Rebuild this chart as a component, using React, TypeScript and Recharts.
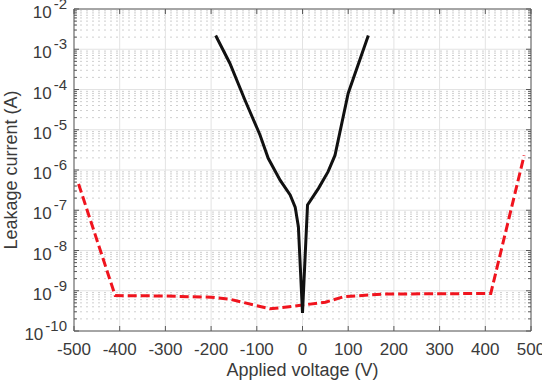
import { LineChart, Line, XAxis, YAxis, CartesianGrid, ReferenceLine } from 'recharts';

// black: leakage sweep (solid)
const blackVoltage = [-190, -159, -126, -93, -75, -49, -27, -16, -9, -5.5, 0, 11, 35, 56, 71, 100, 144];
const blackCurrent = [2.2e-3, 4.5e-4, 5.5e-5, 7.4e-6, 1.95e-6, 5.6e-7, 2.4e-7, 1.2e-7, 3.9e-8, 5.7e-9, 2.8e-10, 1.35e-7, 3.5e-7, 9.1e-7, 2.3e-6, 8.1e-5, 2.2e-3];

// red: dashed sweep
const redVoltage = [-490, -410, -300, -200, -160, -71, 0, 50, 90, 180, 300, 412, 485];
const redCurrent = [4.5e-7, 7.6e-10, 7.4e-10, 6.9e-10, 6.2e-10, 3.55e-10, 4.4e-10, 5.2e-10, 7.1e-10, 8.3e-10, 8.4e-10, 8.6e-10, 2.3e-6];

const xTicks = [-500, -400, -300, -200, -100, 0, 100, 200, 300, 400, 500];
const decadeExponents = [-10, -9, -8, -7, -6, -5, -4, -3, -2];
const minorMantissas = [2, 3, 4, 5, 6, 7, 8, 9];

const majorY = decadeExponents.map(e => Math.pow(10, e));
const minorY = decadeExponents.slice(0, -1).flatMap(e => minorMantissas.map(m => m * Math.pow(10, e)));
const allY = [...majorY, ...minorY].sort((a, b) => a - b);

const blackData = blackVoltage.map((v, i) => ({ v, i: blackCurrent[i] }));
const redData = redVoltage.map((v, i) => ({ v, i: redCurrent[i] }));

const FONT = '"Liberation Sans", Arial, Helvetica, sans-serif';
const TEXT = '#3a3a3a';
const AXIS = '#5a5a5a';
const PLOT_W = 457;
const PLOT_H = 322;
const Y_MARGIN = 7;

const YTick = (props: any) => {
    const { x, y, payload } = props;
    const v = payload.value;
    const lg = Math.log10(v);
    const exp = Math.round(lg);
    const major = Math.abs(lg - exp) < 1e-6;
    const ax = x + Y_MARGIN;
    const len = major ? 5 : 3;
    return (
        <g>
            <line x1={ax} x2={ax + len} y1={y} y2={y} stroke={AXIS} strokeWidth={1} />
            <line x1={ax + PLOT_W} x2={ax + PLOT_W - len} y1={y} y2={y} stroke={AXIS} strokeWidth={1} />
            {major && (
                <text x={x} y={y + 9} textAnchor="end" fill={TEXT} fontFamily={FONT} fontSize={17}>
                    10
                    <tspan dx={2} dy={-9} fontSize={15}>{exp}</tspan>
                </text>
            )}
        </g>
    );
};

const XTick = (props: any) => {
    const { x, y, payload } = props;
    return (
        <g>
            <line x1={x} x2={x} y1={y} y2={y - 5} stroke={AXIS} strokeWidth={1} />
            <line x1={x} x2={x} y1={y - PLOT_H} y2={y - PLOT_H + 5} stroke={AXIS} strokeWidth={1} />
            <text x={x} y={y + 24} textAnchor="middle" fill={TEXT} fontFamily={FONT} fontSize={17}>
                {payload.value}
            </text>
        </g>
    );
};

const App = () => {
    return (
        <div style={{ width: 542, height: 385, background: '#fff' }}>
            <style>{'body{margin:0}'}</style>
            <LineChart width={542} height={385} margin={{ top: 9, right: 11, bottom: 0, left: 0 }}>
                <CartesianGrid horizontalValues={minorY} vertical={false} stroke="#cfcfcf" strokeDasharray="2 4" />
                <CartesianGrid horizontalValues={majorY} verticalValues={xTicks} stroke="#e3e3e3" />
                <XAxis
                    type="number"
                    dataKey="v"
                    domain={[-500, 500]}
                    ticks={xTicks}
                    interval={0}
                    height={54}
                    tickLine={false}
                    tickSize={0}
                    tickMargin={0}
                    tick={<XTick />}
                    stroke={AXIS}
                    allowDuplicatedCategory={false}
                    label={{ value: 'Applied voltage (V)', position: 'insideBottom', offset: 9, fill: TEXT, fontSize: 18, fontFamily: FONT }}
                />
                <YAxis
                    type="number"
                    dataKey="i"
                    scale="log"
                    domain={[1e-10, 1e-2]}
                    allowDataOverflow
                    ticks={allY}
                    interval={0}
                    width={74}
                    tickLine={false}
                    tickSize={0}
                    tickMargin={Y_MARGIN}
                    tick={<YTick />}
                    stroke={AXIS}
                    label={{ value: 'Leakage current (A)', angle: -90, position: 'insideLeft', offset: 11, fill: TEXT, fontSize: 18, fontFamily: FONT, style: { textAnchor: 'middle' } }}
                />
                <ReferenceLine y={1e-2} stroke={AXIS} />
                <ReferenceLine x={500} stroke={AXIS} />
                <Line data={redData} dataKey="i" stroke="#f0141e" strokeWidth={3} strokeDasharray="9 4" dot={false} isAnimationActive={false} />
                <Line data={blackData} dataKey="i" stroke="#111" strokeWidth={3} dot={false} isAnimationActive={false} />
            </LineChart>
        </div>
    );
};

export default App;
